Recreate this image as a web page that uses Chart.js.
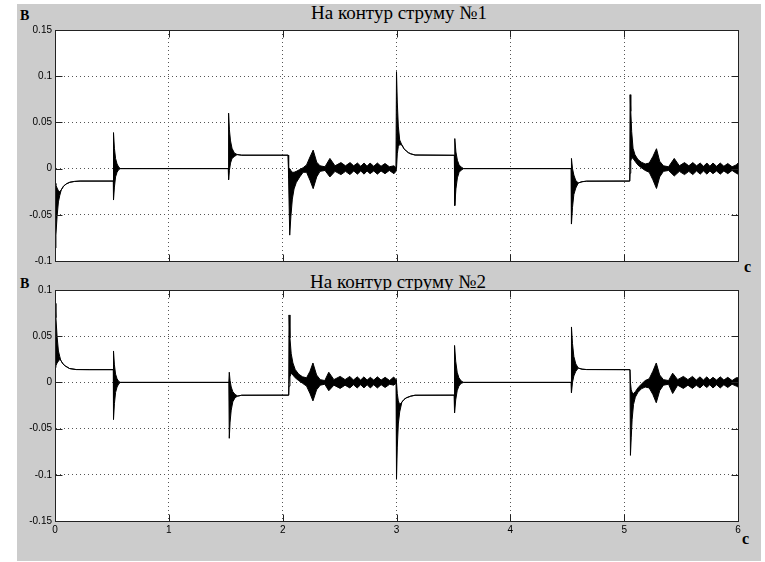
<!DOCTYPE html>
<html>
<head>
<meta charset="utf-8">
<script src="https://cdn.jsdelivr.net/npm/chart.js@4"></script>
<style>
  html, body { margin: 0; padding: 0; background: #fff; }
  #fig { position: relative; width: 765px; height: 562px; overflow: hidden; }
  #bg { position: absolute; left: 17px; top: 4px; width: 744px; height: 557px; background: #cccccc; }
  canvas { position: absolute; left: 0; top: 0; }
  .title { position: absolute; font-family: "Liberation Serif", "Times New Roman", serif; font-size: 19px;
           line-height: 1; color: #000; white-space: nowrap; transform: translateX(-50%); }
  .unit { position: absolute; font-family: "Liberation Serif", "Times New Roman", serif; font-weight: bold;
          line-height: 1; color: #000; }
</style>
</head>
<body>
<div id="fig">
  <div id="bg"></div>
  <div class="title" style="left:399px; top:3px">На контур струму №1</div>
  <div class="title" style="left:398px; top:272px">На контур струму №2</div>
  <div class="unit" style="left:20px; top:9px; font-size:14px">В</div>
  <div class="unit" style="left:20px; top:277px; font-size:14px">В</div>
  <div class="unit" style="left:744px; top:259px; font-size:16px">с</div>
  <div class="unit" style="left:742px; top:531px; font-size:16px">с</div>
  <canvas id="c1" width="765" height="562"></canvas>
  <canvas id="c2" width="765" height="562"></canvas>
</div>
<script>
// Time axis, seconds
const xTicks = [0, 1, 2, 3, 4, 5, 6];
const xLabels = ['0', '1', '2', '3', '4', '5', '6'];

// Voltage axes
const yTicks1 = [-0.1, -0.05, 0, 0.05, 0.1, 0.15];
const yLabels1 = ['-0.1', '-0.05', '0', '0.05', '0.1', '0.15'];
const yTicks2 = [-0.15, -0.1, -0.05, 0, 0.05, 0.1];
const yLabels2 = ['-0.15', '-0.1', '-0.05', '0', '0.05', '0.1'];

// Current loop 1: time, upper and lower envelope of the signal (equal where it is a single trace)
const time1 = [
  0, 0.008, 0.018, 0.030, 0.042, 0.055, 0.075, 0.100, 0.130, 0.170, 0.220, 0.512,
  0.514, 0.522, 0.532, 0.545, 0.560, 0.575, 1.522,
  1.525, 1.532, 1.542, 1.555, 1.575, 1.600, 1.640, 2.048,
  2.052, 2.062, 2.072, 2.085, 2.100, 2.120, 2.150, 2.180, 2.210, 2.240, 2.268, 2.299, 2.328, 2.372, 2.415, 2.460,
  2.512, 2.552, 2.592, 2.624, 2.657, 2.686, 2.715, 2.741, 2.768, 2.800, 2.832, 2.864, 2.899, 2.937, 2.978, 2.995,
  3.000, 3.007, 3.016, 3.028, 3.047, 3.066, 3.086, 3.105, 3.125, 3.163, 3.508,
  3.512, 3.522, 3.535, 3.550, 3.570, 3.590, 4.534,
  4.537, 4.546, 4.558, 4.575, 4.597, 4.630, 4.670, 5.049,
  5.052, 5.058, 5.066, 5.078, 5.095, 5.120, 5.150, 5.185, 5.220, 5.252, 5.284, 5.312, 5.345, 5.390, 5.440, 5.485,
  5.530, 5.568, 5.603, 5.636, 5.668, 5.697, 5.727, 5.753, 5.780, 5.812, 5.844, 5.876, 5.910, 5.948, 5.985, 6.000
];
const upper1 = [
  -0.016, -0.018, -0.021, -0.024, -0.025, -0.023, -0.019, -0.0165, -0.0148, -0.0139, -0.0135, -0.0135,
  0.039, 0.022, 0.011, 0.005, 0.0015, 0, 0,
  0.060, 0.042, 0.030, 0.022, 0.017, 0.0152, 0.0145, 0.0145,
  0.000, 0.000, -0.002, -0.004, -0.004, -0.003, -0.001, 0.001, 0.004, 0.0126, 0.020, 0.007, 0.003, 0.002, 0.011, 0.003,
  0.0065, 0.003, 0.0065, 0.003, 0.006, 0.0025, 0.006, 0.0025, 0.006, 0.0025, 0.006, 0.0025, 0.0055, 0.002, 0.003, 0.001,
  0.105, 0.072, 0.046, 0.031, 0.0256, 0.0215, 0.0190, 0.0172, 0.0160, 0.0147, 0.0144,
  0.0325, 0.018, 0.009, 0.004, 0.0015, 0, 0,
  0.011, 0.000, -0.007, -0.013, -0.0155, -0.0142, -0.0136, -0.0135,
  0.080, 0.062, 0.040, 0.022, 0.015, 0.010, 0.007, 0.005, 0.006, 0.013, 0.0215, 0.008, 0.003, 0.002, 0.011, 0.003,
  0.0065, 0.003, 0.0065, 0.003, 0.006, 0.0025, 0.006, 0.0025, 0.006, 0.0025, 0.006, 0.0025, 0.0055, 0.002, 0.004, 0.006
];
const lower1 = [
  -0.086, -0.072, -0.052, -0.036, -0.029, -0.023, -0.019, -0.0165, -0.0148, -0.0139, -0.0135, -0.0135,
  -0.034, -0.020, -0.009, -0.004, -0.001, 0, 0,
  -0.012, -0.002, 0.006, 0.011, 0.013, 0.0152, 0.0145, 0.0145,
  -0.010, -0.072, -0.052, -0.033, -0.022, -0.015, -0.009, -0.004, -0.004, -0.0126, -0.0217, -0.009, -0.003, -0.002, -0.009, -0.003,
  -0.0065, -0.003, -0.0065, -0.0025, -0.006, -0.0025, -0.006, -0.0025, -0.0055, -0.0025, -0.006, -0.0025, -0.0055, -0.002, -0.0055, -0.003,
  0.000, 0.016, 0.024, 0.026, 0.0256, 0.0215, 0.0190, 0.0172, 0.0160, 0.0147, 0.0144,
  -0.040, -0.022, -0.010, -0.004, -0.0015, 0, 0,
  -0.060, -0.042, -0.028, -0.021, -0.0155, -0.0142, -0.0136, -0.0135,
  -0.005, 0.008, 0.012, 0.011, 0.008, 0.004, 0.001, -0.002, -0.004, -0.012, -0.0215, -0.009, -0.003, -0.002, -0.008, -0.003,
  -0.0065, -0.003, -0.0065, -0.0025, -0.006, -0.0025, -0.006, -0.0025, -0.0055, -0.0025, -0.006, -0.0025, -0.0055, -0.002, -0.005, -0.006
];

// Current loop 2
const time2 = [
  0, 0.008, 0.018, 0.030, 0.042, 0.050, 0.070, 0.090, 0.128, 0.186, 0.300, 0.512,
  0.514, 0.522, 0.532, 0.545, 0.560, 0.575, 1.527,
  1.531, 1.538, 1.548, 1.562, 1.582, 1.605, 1.640, 2.053,
  2.056, 2.064, 2.075, 2.090, 2.110, 2.140, 2.175, 2.210, 2.240, 2.266, 2.298, 2.330, 2.370, 2.405, 2.450, 2.505,
  2.548, 2.590, 2.622, 2.655, 2.685, 2.714, 2.742, 2.770, 2.800, 2.832, 2.865, 2.900, 2.940, 2.975, 2.996,
  3.000, 3.007, 3.016, 3.028, 3.047, 3.066, 3.086, 3.125, 3.163, 3.506,
  3.510, 3.520, 3.533, 3.548, 3.568, 3.590, 4.534,
  4.537, 4.546, 4.558, 4.575, 4.597, 4.630, 4.670, 5.051,
  5.055, 5.062, 5.070, 5.082, 5.098, 5.120, 5.150, 5.185, 5.220, 5.252, 5.282, 5.312, 5.345, 5.390, 5.426, 5.470,
  5.520, 5.560, 5.600, 5.634, 5.666, 5.696, 5.726, 5.752, 5.780, 5.812, 5.844, 5.876, 5.910, 5.948, 5.985, 6.000
];
const upper2 = [
  0.0855, 0.070, 0.050, 0.034, 0.028, 0.024, 0.020, 0.0178, 0.0150, 0.0139, 0.0138, 0.0138,
  0.034, 0.019, 0.009, 0.004, 0.001, 0, 0,
  0.011, 0.002, -0.005, -0.010, -0.013, -0.0148, -0.0139, -0.0138,
  0.073, 0.048, 0.031, 0.021, 0.014, 0.009, 0.006, 0.005, 0.012, 0.021, 0.008, 0.003, 0.002, 0.011, 0.003, 0.0065,
  0.003, 0.0065, 0.0025, 0.006, 0.0025, 0.006, 0.0025, 0.0055, 0.0025, 0.006, 0.0025, 0.0055, 0.002, 0.0058, 0.003,
  0.000, -0.012, -0.020, -0.024, -0.0214, -0.0185, -0.0167, -0.0149, -0.0139, -0.0138,
  0.040, 0.023, 0.011, 0.005, 0.0015, 0, 0,
  0.060, 0.042, 0.028, 0.020, 0.0155, 0.0143, 0.0139, 0.0138,
  0.000, -0.008, -0.011, -0.012, -0.010, -0.006, -0.002, 0.002, 0.004, 0.012, 0.021, 0.008, 0.003, 0.002, 0.010, 0.003,
  0.0065, 0.003, 0.0065, 0.0025, 0.006, 0.0025, 0.006, 0.0025, 0.0055, 0.0025, 0.006, 0.0025, 0.0055, 0.002, 0.005, 0.005
];
const lower2 = [
  0.016, 0.018, 0.021, 0.023, 0.025, 0.024, 0.020, 0.0178, 0.0150, 0.0139, 0.0138, 0.0138,
  -0.040, -0.023, -0.011, -0.005, -0.0015, 0, 0,
  -0.0605, -0.043, -0.030, -0.021, -0.0165, -0.0148, -0.0139, -0.0138,
  -0.004, 0.006, 0.010, 0.008, 0.005, 0.002, -0.001, -0.004, -0.012, -0.020, -0.008, -0.003, -0.002, -0.009, -0.003, -0.0065,
  -0.003, -0.006, -0.0025, -0.006, -0.0025, -0.006, -0.0025, -0.006, -0.0025, -0.006, -0.0025, -0.0055, -0.002, -0.003, -0.001,
  -0.1047, -0.070, -0.045, -0.032, -0.0214, -0.0185, -0.0167, -0.0149, -0.0139, -0.0138,
  -0.033, -0.019, -0.009, -0.004, -0.001, 0, 0,
  -0.011, 0.000, 0.007, 0.012, 0.0155, 0.0143, 0.0139, 0.0138,
  -0.079, -0.060, -0.040, -0.024, -0.016, -0.011, -0.007, -0.005, -0.006, -0.013, -0.022, -0.009, -0.003, -0.002, -0.012, -0.003,
  -0.0065, -0.003, -0.0065, -0.003, -0.006, -0.0025, -0.0055, -0.0025, -0.006, -0.0025, -0.006, -0.0025, -0.0055, -0.002, -0.004, -0.005
];

const tickFont = { family: '"Liberation Sans", Arial, sans-serif', size: 10 };
const AXIS = '#222';

function points(t, v) {
  const n = Math.min(t.length, v.length);
  const out = [];
  for (let i = 0; i < n; i++) out.push({ x: t[i], y: v[i] });
  return out;
}

// White plot area, MATLAB-style box with inward ticks on all four sides
const framePlugin = {
  id: 'frame',
  beforeDraw(chart) {
    const { ctx, chartArea: a } = chart;
    ctx.save();
    ctx.fillStyle = '#fff';
    ctx.fillRect(a.left, a.top, a.right - a.left, a.bottom - a.top);
    ctx.restore();
  },
  afterDraw(chart) {
    const { ctx, chartArea: a, scales } = chart;
    const L = Math.round(a.left) + 0.5, R = Math.round(a.right) + 0.5;
    const T = Math.round(a.top) + 0.5, B = Math.round(a.bottom) + 0.5;
    const len = 7;
    ctx.save();
    ctx.strokeStyle = AXIS;
    ctx.lineWidth = 1;
    ctx.beginPath();
    ctx.rect(L, T, R - L, B - T);
    scales.x.ticks.forEach(tk => {
      const px = Math.round(scales.x.getPixelForValue(tk.value)) + 0.5;
      ctx.moveTo(px, B); ctx.lineTo(px, B - len);
      ctx.moveTo(px, T); ctx.lineTo(px, T + len);
    });
    scales.y.ticks.forEach(tk => {
      const py = Math.round(scales.y.getPixelForValue(tk.value)) + 0.5;
      ctx.moveTo(L, py); ctx.lineTo(L + len, py);
      ctx.moveTo(R, py); ctx.lineTo(R - len, py);
    });
    ctx.stroke();
    ctx.restore();
  }
};

function makePanel(id, t, hi, lo, yMin, yMax, yTicks, yLabels, showX, padTop, padBottom) {
  return new Chart(document.getElementById(id), {
    type: 'line',
    data: {
      datasets: [
        { data: points(t, hi), borderColor: '#000', borderWidth: 1, backgroundColor: '#000',
          fill: '+1', pointRadius: 0, tension: 0 },
        { data: points(t, lo), borderColor: '#000', borderWidth: 1, backgroundColor: '#000',
          fill: false, pointRadius: 0, tension: 0 }
      ]
    },
    options: {
      responsive: false,
      devicePixelRatio: 1,
      animation: false,
      events: [],
      layout: { padding: { left: 0, right: 27, top: padTop, bottom: padBottom } },
      plugins: { legend: { display: false }, tooltip: { enabled: false }, title: { display: false } },
      scales: {
        x: {
          type: 'linear', min: 0, max: 6,
          afterBuildTicks: s => { s.ticks = xTicks.map(v => ({ value: v })); },
          afterFit: s => { s.height = 20; },
          ticks: { display: showX, autoSkip: false, maxRotation: 0, padding: 3, color: '#000', font: tickFont,
                   callback: (v, i) => xLabels[i] },
          grid: { color: '#555', lineWidth: 1, drawTicks: false },
          border: { display: true, color: AXIS, dash: [1, 3] }
        },
        y: {
          type: 'linear', min: yMin, max: yMax,
          afterBuildTicks: s => { s.ticks = yTicks.map(v => ({ value: v })); },
          afterFit: s => { s.width = 55; },
          ticks: { autoSkip: false, padding: 3, color: '#000', font: tickFont,
                   callback: (v, i) => yLabels[i] },
          grid: { color: '#555', lineWidth: 1, drawTicks: false },
          border: { display: true, color: AXIS, dash: [1, 3] }
        }
      }
    },
    plugins: [framePlugin]
  });
}

makePanel('c1', time1, upper1, lower1, -0.1, 0.15, yTicks1, yLabels1, false, 30, 562 - 261 - 20);
makePanel('c2', time2, upper2, lower2, -0.15, 0.1, yTicks2, yLabels2, true, 290, 562 - 521 - 20);
</script>
</body>
</html>
